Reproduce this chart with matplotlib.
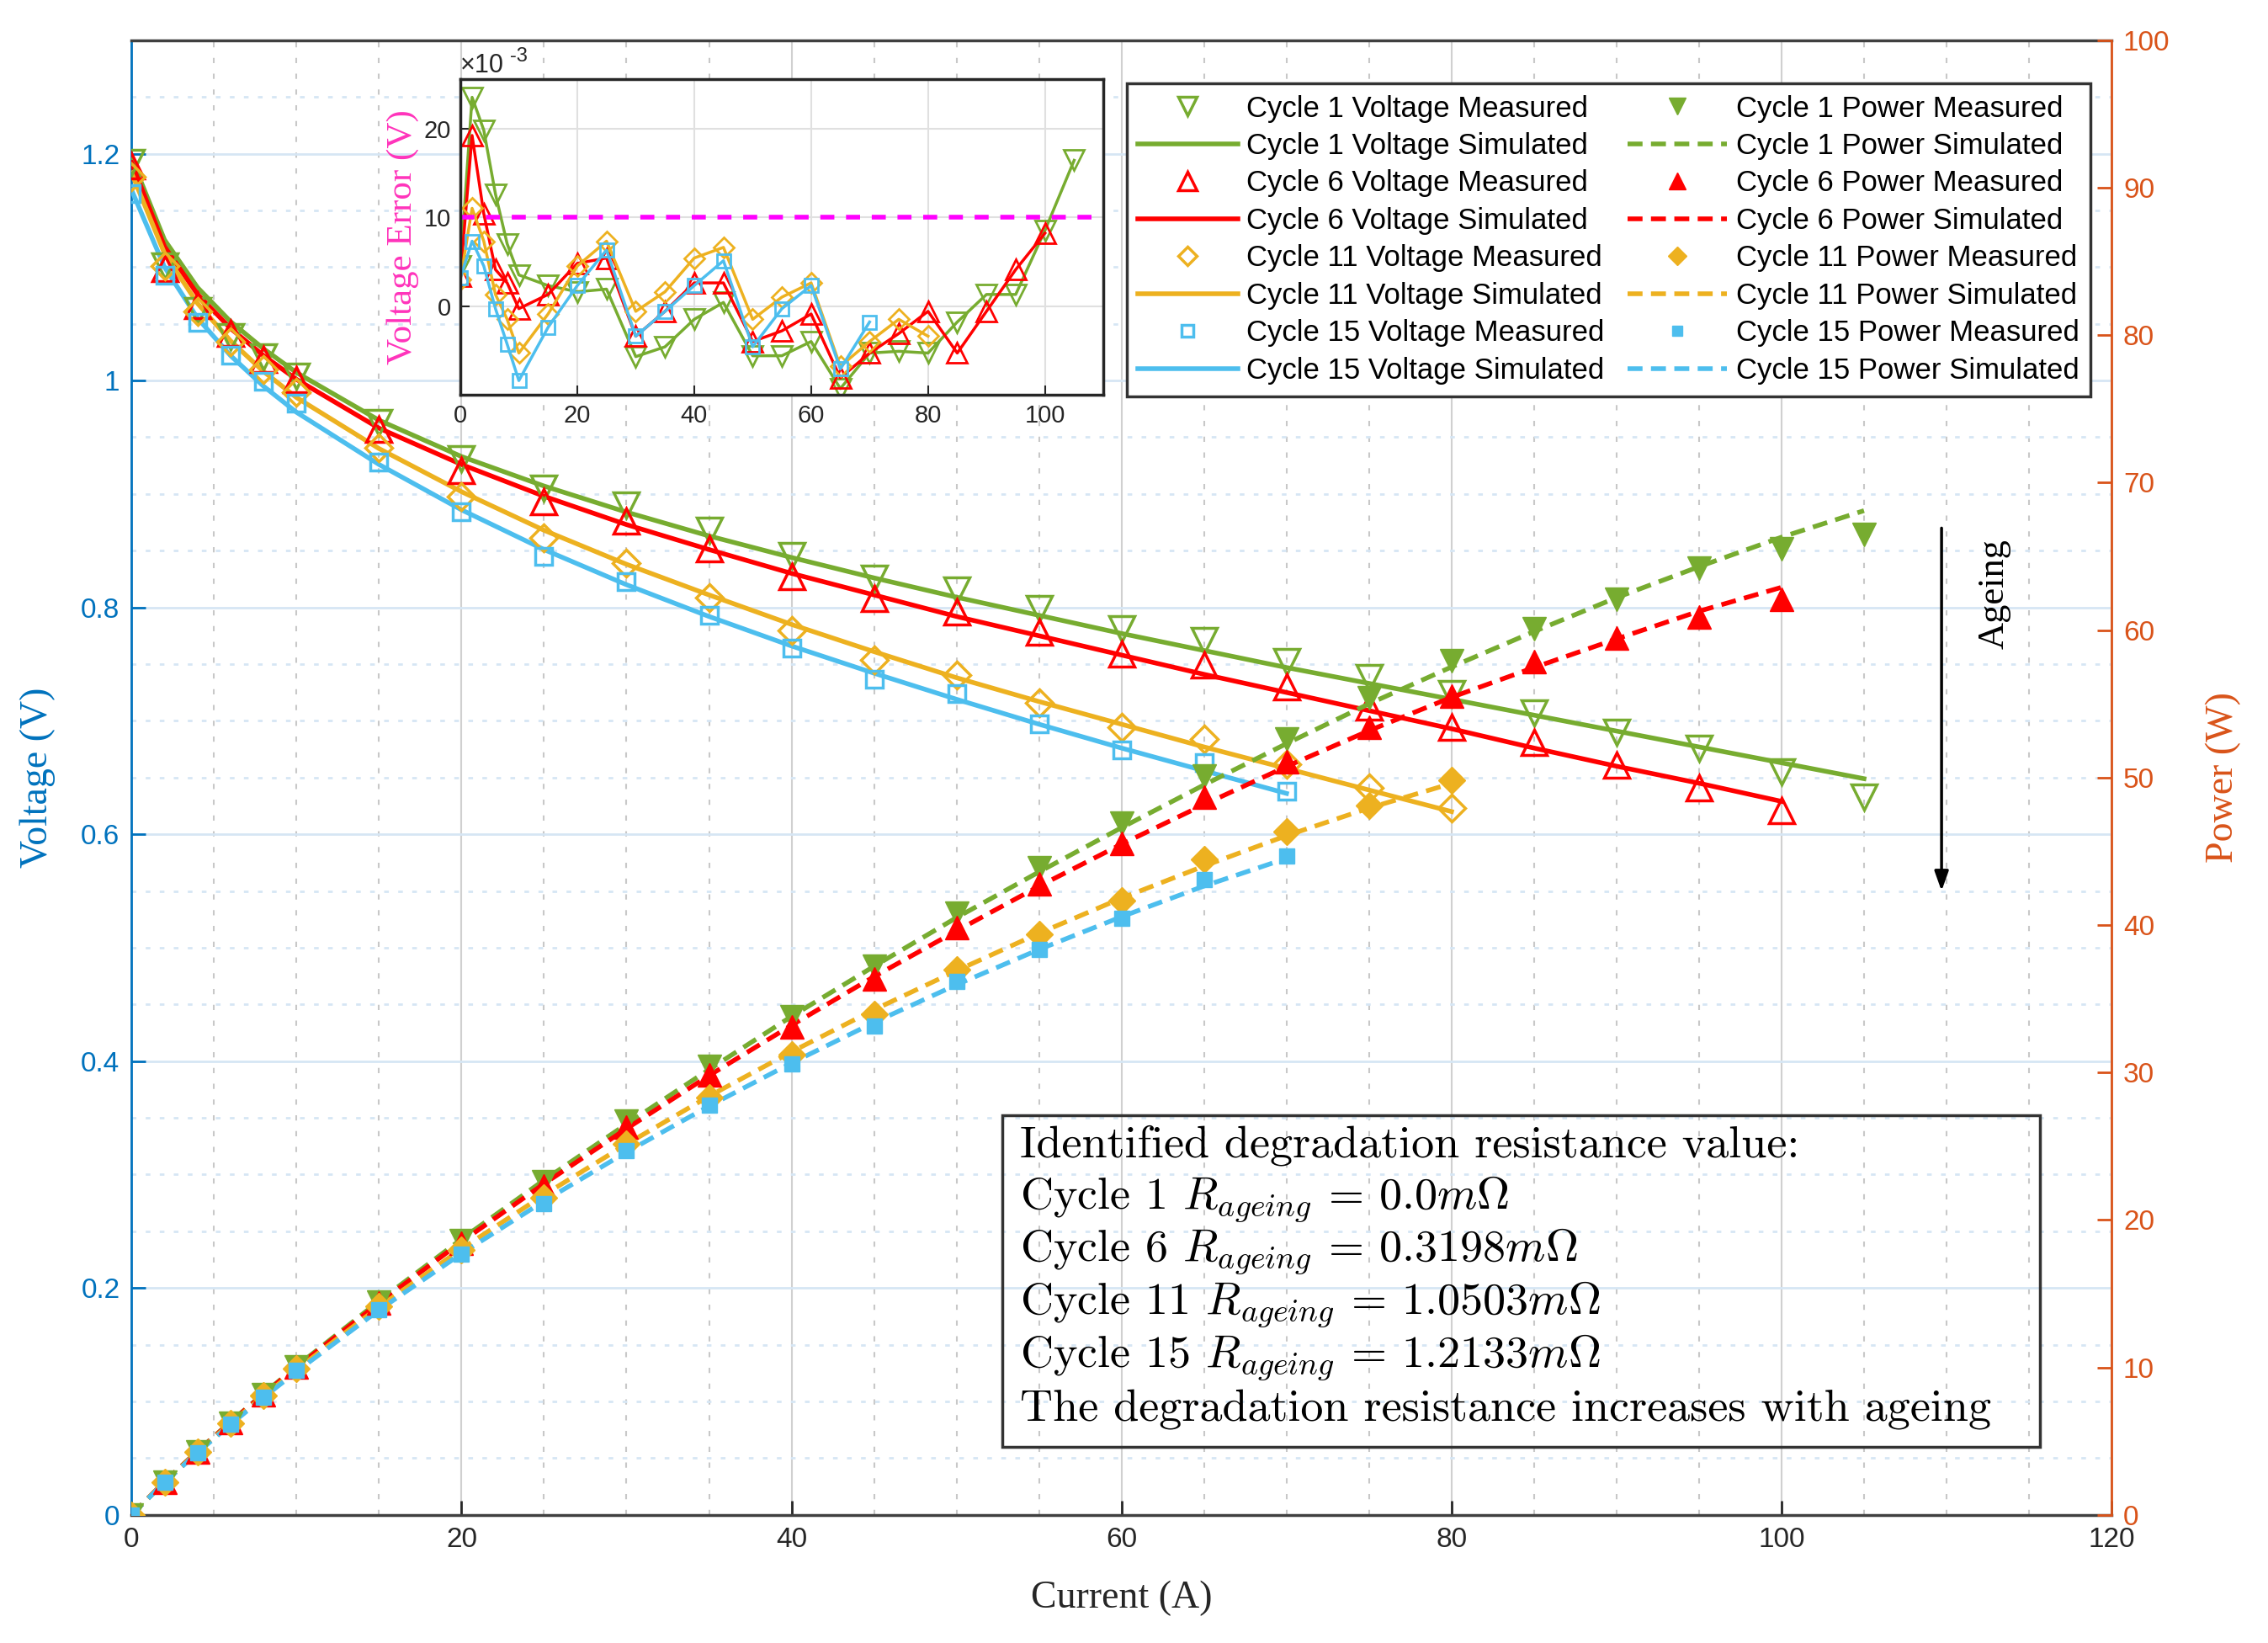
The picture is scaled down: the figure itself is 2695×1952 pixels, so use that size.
import numpy as np
import matplotlib.pyplot as plt
from matplotlib.patches import Rectangle
from matplotlib.ticker import MultipleLocator

plt.rcParams['font.family'] = ['Liberation Sans', 'DejaVu Sans']
plt.rcParams['mathtext.fontset'] = 'cm'

# measured currents (A)
I1 = [0, 2, 4, 6, 8, 10, 15, 20, 25, 30, 35, 40, 45, 50, 55, 60, 65, 70, 75, 80, 85, 90, 95, 100, 105]
I6 = I1[:24]
I11 = I1[:20]
I15 = I1[:18]

# voltage (V)
v_meas1 = [1.192, 1.101, 1.062, 1.039, 1.021, 1.004, 0.963, 0.931, 0.905, 0.890, 0.868, 0.846, 0.826,
           0.815, 0.799, 0.781, 0.771, 0.752, 0.738, 0.724, 0.707, 0.690, 0.676, 0.655, 0.633]
v_sim1 = [1.196, 1.124, 1.082, 1.052, 1.028, 1.007, 0.965, 0.933, 0.907, 0.884, 0.863, 0.844, 0.826,
          0.809, 0.793, 0.777, 0.762, 0.747, 0.733, 0.719, 0.705, 0.691, 0.677, 0.663, 0.649]
v_meas6 = [1.189, 1.099, 1.066, 1.042, 1.019, 1.001, 0.957, 0.921, 0.893, 0.876, 0.852, 0.827, 0.808,
           0.796, 0.778, 0.759, 0.749, 0.730, 0.712, 0.694, 0.681, 0.661, 0.641, 0.621]
v_sim6 = [1.192, 1.118, 1.076, 1.046, 1.022, 1.001, 0.958, 0.926, 0.898, 0.873, 0.851, 0.830, 0.811,
          0.792, 0.775, 0.758, 0.741, 0.725, 0.709, 0.693, 0.676, 0.660, 0.645, 0.629]
v_meas11 = [1.180, 1.101, 1.061, 1.034, 1.010, 0.990, 0.941, 0.898, 0.861, 0.839, 0.809, 0.780, 0.754,
            0.740, 0.716, 0.694, 0.684, 0.662, 0.641, 0.623]
v_sim11 = [1.183, 1.112, 1.068, 1.035, 1.008, 0.985, 0.940, 0.902, 0.868, 0.838, 0.811, 0.785, 0.761,
           0.738, 0.717, 0.697, 0.677, 0.658, 0.639, 0.620]
v_meas15 = [1.165, 1.093, 1.051, 1.022, 0.999, 0.980, 0.928, 0.884, 0.845, 0.823, 0.793, 0.764, 0.737,
            0.724, 0.697, 0.674, 0.663, 0.638]
v_sim15 = [1.168, 1.100, 1.055, 1.022, 0.995, 0.972, 0.926, 0.886, 0.851, 0.820, 0.792, 0.766, 0.742,
           0.719, 0.697, 0.676, 0.656, 0.636]

# power (W)
p_meas1 = [0, 2.20, 4.25, 6.23, 8.17, 10.04, 14.4, 18.6, 22.6, 26.7, 30.4, 33.8, 37.2, 40.8, 43.9,
           46.9, 50.1, 52.6, 55.4, 57.9, 60.1, 62.1, 64.2, 65.5, 66.5]
p_sim1 = [0, 2.25, 4.33, 6.31, 8.22, 10.07, 14.5, 18.7, 22.7, 26.5, 30.2, 33.8, 37.2, 40.5, 43.6,
          46.6, 49.5, 52.3, 55.0, 57.5, 59.9, 62.2, 64.3, 66.3, 68.1]
p_meas6 = [0, 2.20, 4.26, 6.25, 8.15, 10.01, 14.36, 18.42, 22.33, 26.28, 29.82, 33.08, 36.36, 39.8,
           42.79, 45.54, 48.69, 51.1, 53.4, 55.52, 57.89, 59.49, 60.9, 62.1]
p_sim6 = [0, 2.24, 4.30, 6.28, 8.18, 10.01, 14.37, 18.52, 22.45, 26.19, 29.79, 33.2, 36.5, 39.6,
          42.63, 45.48, 48.17, 50.75, 53.18, 55.44, 57.46, 59.4, 61.28, 62.9]
p_meas11 = [0, 2.20, 4.24, 6.20, 8.08, 9.90, 14.12, 17.96, 21.53, 25.17, 28.32, 31.2, 33.93, 37.0,
            39.38, 41.64, 44.46, 46.34, 48.08, 49.84]
p_sim11 = [0, 2.22, 4.27, 6.21, 8.06, 9.85, 14.1, 18.04, 21.7, 25.14, 28.39, 31.4, 34.25, 36.9,
           39.44, 41.82, 44.0, 46.06, 47.93, 49.6]
p_meas15 = [0, 2.19, 4.20, 6.13, 7.99, 9.80, 13.92, 17.68, 21.13, 24.69, 27.76, 30.56, 33.17, 36.2,
            38.34, 40.44, 43.1, 44.66]
p_sim15 = [0, 2.20, 4.22, 6.13, 7.96, 9.72, 13.89, 17.72, 21.28, 24.6, 27.72, 30.64, 33.39, 35.95,
           38.34, 40.56, 42.64, 44.52]

# voltage error (x1e-3 V)
err1 = [4.5, 23.5, 19.8, 12.6, 7.0, 3.5, 2.3, 1.6, 1.9, -5.7, -4.6, -1.5, 0.4, -5.6, -5.6, -4.0,
        -9.3, -5.3, -5.1, -5.3, -1.8, 1.3, 1.3, 8.5, 16.4]
err6 = [3.4, 19.2, 10.4, 4.1, 2.6, -0.3, 1.3, 4.8, 5.4, -3.4, -0.6, 2.6, 2.6, -4.0, -2.8, -0.9,
        -8.1, -5.3, -3.1, -0.6, -5.3, -0.6, 4.1, 8.2]
err11 = [3.0, 11.0, 7.3, 1.3, -1.5, -5.3, -0.9, 4.5, 7.3, -0.6, 1.6, 5.4, 6.6, -1.5, 1.0, 2.6,
         -6.8, -4.0, -1.5, -3.4]
err15 = [3.2, 7.3, 4.5, -0.3, -4.3, -8.4, -2.4, 2.3, 6.3, -3.4, -0.6, 2.3, 5.1, -4.6, -0.3, 2.3,
         -7.1, -1.8]
err_limit = 10

cycles = [1, 6, 11, 15]
r_ageing = ['0.0', '0.3198', '1.0503', '1.2133']
colors = ['#77AC30', '#FF0000', '#EDB120', '#4DBEEE']
v_markers = ['v', '^', 'D', 's']
v_msize = [22, 22, 16, 14]
p_msize = [20, 20, 16, 13]

currents = [I1, I6, I11, I15]
v_meas = [v_meas1, v_meas6, v_meas11, v_meas15]
v_sim = [v_sim1, v_sim6, v_sim11, v_sim15]
p_meas = [p_meas1, p_meas6, p_meas11, p_meas15]
p_sim = [p_sim1, p_sim6, p_sim11, p_sim15]
errs = [err1, err6, err11, err15]

blue = '#0072BD'
orange = '#D95319'
dark = '#262626'

fig = plt.figure(figsize=(26.95, 19.52), dpi=100)
ax = fig.add_axes([0.058, 0.078, 0.873, 0.8975])
ax2 = ax.twinx()

v_handles = []
p_handles = []
for k in range(4):
    c = colors[k]
    h1, = ax.plot(currents[k], v_meas[k], linestyle='none', marker=v_markers[k], ms=v_msize[k],
                  mfc='none', mec=c, mew=2.5, label=f'Cycle {cycles[k]} Voltage Measured', zorder=4)
    h2, = ax.plot(currents[k], v_sim[k], color=c, lw=4, label=f'Cycle {cycles[k]} Voltage Simulated', zorder=3)
    h3, = ax2.plot(currents[k], p_meas[k], linestyle='none', marker=v_markers[k], ms=p_msize[k],
                   mfc=c, mec=c, label=f'Cycle {cycles[k]} Power Measured', zorder=4)
    h4, = ax2.plot(currents[k], p_sim[k], color=c, lw=4, ls='--', dashes=(3.2, 1.8),
                   label=f'Cycle {cycles[k]} Power Simulated', zorder=3)
    v_handles += [h1, h2]
    p_handles += [h3, h4]

ax.set_xlim(0, 120)
ax.set_ylim(0, 1.3)
ax2.set_ylim(0, 100)
ax.set_xticks(np.arange(0, 121, 20))
ax.set_yticks(np.arange(0, 1.21, 0.2))
ax.set_yticklabels(['0', '0.2', '0.4', '0.6', '0.8', '1', '1.2'])
ax2.set_yticks(np.arange(0, 101, 10))
ax.xaxis.set_minor_locator(MultipleLocator(5))
ax.yaxis.set_minor_locator(MultipleLocator(0.05))

ax.grid(True, which='major', axis='x', color='#d0d0d0', lw=1.5)
ax.grid(True, which='minor', axis='x', color='#c8c8c8', lw=1.5, ls=(0, (3, 6)))
ax.grid(True, which='major', axis='y', color='#d6e6f4', lw=2)
ax.grid(True, which='minor', axis='y', color='#d6e6f4', lw=2, ls=(0, (2, 4)))
ax.set_axisbelow(True)

ax.tick_params(axis='both', which='major', direction='in', length=12, width=2, labelsize=24, pad=10)
ax.tick_params(axis='both', which='minor', length=0)
ax.tick_params(axis='x', colors=dark)
ax.tick_params(axis='y', colors=blue)
ax2.tick_params(axis='y', direction='in', length=12, width=2, labelsize=24, colors=orange, pad=10)

for s in ['top', 'bottom']:
    ax.spines[s].set_color('#404040')
    ax.spines[s].set_linewidth(2.5)
ax.spines['left'].set_color(blue)
ax.spines['left'].set_linewidth(2)
ax2.spines['left'].set_visible(False)
ax2.spines['top'].set_visible(False)
ax2.spines['bottom'].set_visible(False)
ax2.spines['right'].set_color(orange)
ax2.spines['right'].set_linewidth(2)
ax.spines['right'].set_visible(False)

ax.set_xlabel('Current (A)', family='Liberation Serif', fontsize=33, color=dark, labelpad=24)
ax.set_ylabel('Voltage (V)', family='Liberation Serif', fontsize=33, color=blue, labelpad=22)
ax2.set_ylabel('Power (W)', family='Liberation Serif', fontsize=33, color=orange, labelpad=30)

# ageing arrow
ax.annotate('', xy=(109.7, 0.548), xytext=(109.7, 0.872),
            arrowprops=dict(arrowstyle='-|>,head_length=1.4,head_width=0.5', color='black', lw=2.5),
            zorder=5)
ax.text(112.9, 0.812, 'Ageing', rotation=90, family='Liberation Serif', fontsize=32,
        ha='center', va='center', color='black')

# resistance box
ax2.add_patch(Rectangle((0.4397, 0.0462), 0.5242, 0.2249, transform=ax2.transAxes,
                        fill=False, edgecolor='#333333', lw=2.5, zorder=6))
box_lines = ['Identified degradation resistance value:']
for k in range(4):
    box_lines.append(f'Cycle {cycles[k]} ' + r'$R_{ageing}$' + ' = ' + r'$' + r_ageing[k] + r'm\Omega$')
box_lines.append('The degradation resistance increases with ageing')
for n, line in enumerate(box_lines):
    ax2.text(0.4485, 0.2505 - n * 0.0358, line, transform=ax2.transAxes, family='cmr10',
             fontsize=39, va='center', ha='left', color='black', zorder=7)

leg = ax2.legend(v_handles + p_handles, [h.get_label() for h in v_handles + p_handles],
                 ncol=2, loc='upper left', bbox_to_anchor=(0.5025, 0.971), borderaxespad=0,
                 fontsize=25, frameon=True, fancybox=False, framealpha=1, edgecolor='#333333',
                 handlelength=3.4, handletextpad=0.3, columnspacing=0.8, labelspacing=0.33,
                 borderpad=0.4, markerscale=0.7)
leg.get_frame().set_linewidth(2.5)
leg.set_zorder(10)

# inset: voltage error
axi = fig.add_axes([0.203, 0.7597, 0.2835, 0.1919])
for k in range(4):
    axi.plot(currents[k], errs[k], color=colors[k], lw=2.5, marker=v_markers[k],
             ms=v_msize[k] * 0.78, mfc='none', mec=colors[k], mew=2)
axi.axhline(err_limit, color='#FF00FF', lw=4, ls='--', dashes=(3, 2.5))
axi.set_xlim(0, 110)
axi.set_ylim(-10, 25.5)
axi.set_xticks(np.arange(0, 101, 20))
axi.set_yticks([0, 10, 20])
axi.grid(True, color='#e0e0e0', lw=1.5)
axi.tick_params(direction='in', length=8, width=1.5, labelsize=21, colors=dark, pad=8)
for s in axi.spines.values():
    s.set_color('#262626')
    s.set_linewidth(2.5)
axi.set_ylabel('Voltage Error (V)', family='Liberation Serif', fontsize=31, color='#FF33BB', labelpad=4)
axi.text(0.0, 1.005, '×10', transform=axi.transAxes, fontsize=22, color=dark, ha='left', va='bottom')
axi.text(0.077, 1.045, '-3', transform=axi.transAxes, fontsize=17, color=dark, ha='left', va='bottom')

fig.savefig('out.png', dpi=100, facecolor='white')
